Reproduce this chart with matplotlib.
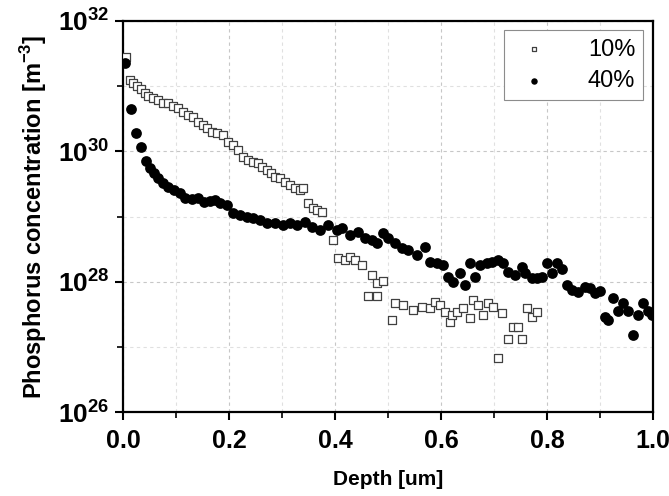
import numpy as np
import matplotlib
matplotlib.use("Agg")
import matplotlib.pyplot as plt
from matplotlib.ticker import FixedLocator, FuncFormatter

plt.rcParams["font.family"] = ["Liberation Sans", "DejaVu Sans"]
plt.rcParams["mathtext.fontset"] = "custom"
plt.rcParams["mathtext.rm"] = "Liberation Sans"
plt.rcParams["mathtext.bf"] = "Liberation Sans:bold"

# 10 % sample: depth [um] and log10 of concentration [m^-3]
depth_10 = [0.006, 0.013, 0.019, 0.026, 0.034, 0.042, 0.047, 0.057, 0.066, 0.075,
            0.085, 0.094, 0.104, 0.113, 0.123, 0.132, 0.142, 0.151, 0.158, 0.168,
            0.177, 0.189, 0.198, 0.208, 0.217, 0.226, 0.236, 0.245, 0.255, 0.262,
            0.272, 0.279, 0.287, 0.296, 0.306, 0.315, 0.325, 0.334, 0.340, 0.349,
            0.358, 0.366, 0.375, 0.396, 0.406, 0.419, 0.428, 0.438, 0.451, 0.470,
            0.479, 0.491, 0.462, 0.479, 0.508, 0.513, 0.528, 0.547, 0.564, 0.579,
            0.589, 0.598, 0.608, 0.617, 0.621, 0.630, 0.642, 0.655, 0.660, 0.670,
            0.679, 0.689, 0.698, 0.708, 0.715, 0.726, 0.736, 0.745, 0.753, 0.762,
            0.772, 0.781]
logc_10 = [31.45, 31.09, 31.05, 31.00, 30.96, 30.89, 30.85, 30.82, 30.79, 30.74,
           30.74, 30.70, 30.67, 30.60, 30.56, 30.53, 30.45, 30.40, 30.36, 30.30,
           30.28, 30.25, 30.14, 30.10, 30.02, 29.91, 29.87, 29.84, 29.82, 29.76,
           29.71, 29.67, 29.61, 29.59, 29.53, 29.48, 29.44, 29.41, 29.44, 29.21,
           29.13, 29.10, 29.07, 28.64, 28.36, 28.33, 28.38, 28.33, 28.26, 28.10,
           27.98, 28.01, 27.78, 27.78, 27.41, 27.67, 27.64, 27.57, 27.61, 27.60,
           27.69, 27.64, 27.53, 27.38, 27.49, 27.53, 27.60, 27.44, 27.72, 27.64,
           27.49, 27.67, 27.61, 26.83, 27.52, 27.12, 27.30, 27.30, 27.12, 27.60,
           27.46, 27.53]

# 40 % sample
depth_40 = [0.004, 0.015, 0.025, 0.034, 0.043, 0.051, 0.058, 0.066, 0.075, 0.085,
            0.096, 0.108, 0.117, 0.130, 0.142, 0.153, 0.164, 0.174, 0.183, 0.196,
            0.208, 0.221, 0.234, 0.245, 0.258, 0.272, 0.287, 0.302, 0.315, 0.328,
            0.343, 0.357, 0.372, 0.387, 0.404, 0.413, 0.428, 0.443, 0.457, 0.470,
            0.479, 0.491, 0.500, 0.513, 0.526, 0.538, 0.555, 0.570, 0.579, 0.592,
            0.604, 0.613, 0.623, 0.636, 0.645, 0.655, 0.664, 0.674, 0.687, 0.696,
            0.708, 0.717, 0.726, 0.740, 0.753, 0.758, 0.772, 0.781, 0.791, 0.800,
            0.809, 0.819, 0.828, 0.838, 0.847, 0.858, 0.872, 0.881, 0.891, 0.900,
            0.909, 0.915, 0.925, 0.934, 0.943, 0.953, 0.962, 0.972, 0.981, 0.991,
            0.998]
logc_40 = [31.36, 30.65, 30.28, 30.07, 29.85, 29.74, 29.67, 29.59, 29.51, 29.45,
           29.41, 29.36, 29.28, 29.27, 29.28, 29.22, 29.24, 29.25, 29.21, 29.18,
           29.05, 29.02, 28.99, 28.98, 28.95, 28.90, 28.90, 28.87, 28.90, 28.87,
           28.92, 28.84, 28.79, 28.87, 28.79, 28.82, 28.72, 28.76, 28.67, 28.64,
           28.59, 28.75, 28.67, 28.59, 28.52, 28.49, 28.41, 28.53, 28.30, 28.29,
           28.26, 28.07, 28.00, 28.13, 27.95, 28.29, 28.07, 28.26, 28.29, 28.30,
           28.33, 28.29, 28.15, 28.10, 28.23, 28.13, 28.06, 28.06, 28.07, 28.29,
           28.13, 28.29, 28.19, 27.95, 27.87, 27.84, 27.92, 27.90, 27.83, 27.86,
           27.46, 27.41, 27.75, 27.55, 27.67, 27.55, 27.18, 27.49, 27.67, 27.55,
           27.49]

x_ticks = [0.0, 0.2, 0.4, 0.6, 0.8, 1.0]
y_major = [1e26, 1e28, 1e30, 1e32]
y_minor = [1e27, 1e29, 1e31]

fig = plt.figure(figsize=(6.69, 4.96), dpi=100)
ax = fig.add_axes([0.184, 0.169, 0.792, 0.789])

ax.scatter(depth_10, 10.0 ** np.array(logc_10), marker="s", s=32,
           facecolor="white", edgecolor="0.25", linewidth=0.9, label="10%", zorder=3)
ax.scatter(depth_40, 10.0 ** np.array(logc_40), marker="o", s=60,
           color="black", linewidth=0, label="40%", zorder=4)

ax.set_yscale("log")
ax.set_xlim(0, 1.0)
ax.set_ylim(1e26, 1e32)

ax.xaxis.set_major_locator(FixedLocator(x_ticks))
ax.xaxis.set_minor_locator(FixedLocator([0.1, 0.3, 0.5, 0.7, 0.9]))
ax.xaxis.set_major_formatter(FuncFormatter(lambda v, p: f"{v:.1f}"))
ax.yaxis.set_major_locator(FixedLocator(y_major))
ax.yaxis.set_minor_locator(FixedLocator(y_minor))
ax.yaxis.set_major_formatter(
    FuncFormatter(lambda v, p: r"$\mathbf{10^{%d}}$" % round(np.log10(v))))
ax.yaxis.set_minor_formatter(FuncFormatter(lambda v, p: ""))

ax.tick_params(which="major", direction="out", length=6, width=1.5)
ax.tick_params(which="minor", direction="out", length=4, width=1.2)
ax.tick_params(axis="x", labelsize=18, pad=6)
ax.tick_params(axis="y", labelsize=19, pad=4)
for lab in ax.get_xticklabels():
    lab.set_fontweight("bold")

for sp in ax.spines.values():
    sp.set_linewidth(1.6)

ax.grid(True, which="major", linestyle=(0, (3, 3)), color="0.78", linewidth=0.8)
ax.grid(True, which="minor", linestyle=(0, (3, 3)), color="0.88", linewidth=0.8)
ax.set_axisbelow(True)

ax.set_xlabel("Depth [um]", fontsize=15, fontweight="bold", labelpad=12)
ax.set_ylabel(r"Phosphorus concentration [m$^{\mathbf{-3}}$]", fontsize=17,
              fontweight="bold", labelpad=6)

leg = ax.legend(loc="upper right", fontsize=17, markerscale=0.6, frameon=True,
                fancybox=False, framealpha=1, edgecolor="0.55",
                borderaxespad=0.4, handletextpad=1.4, borderpad=0.35,
                labelspacing=0.4, handlelength=1.8)
leg.get_frame().set_linewidth(0.8)

fig.savefig("out.png", dpi=100)
